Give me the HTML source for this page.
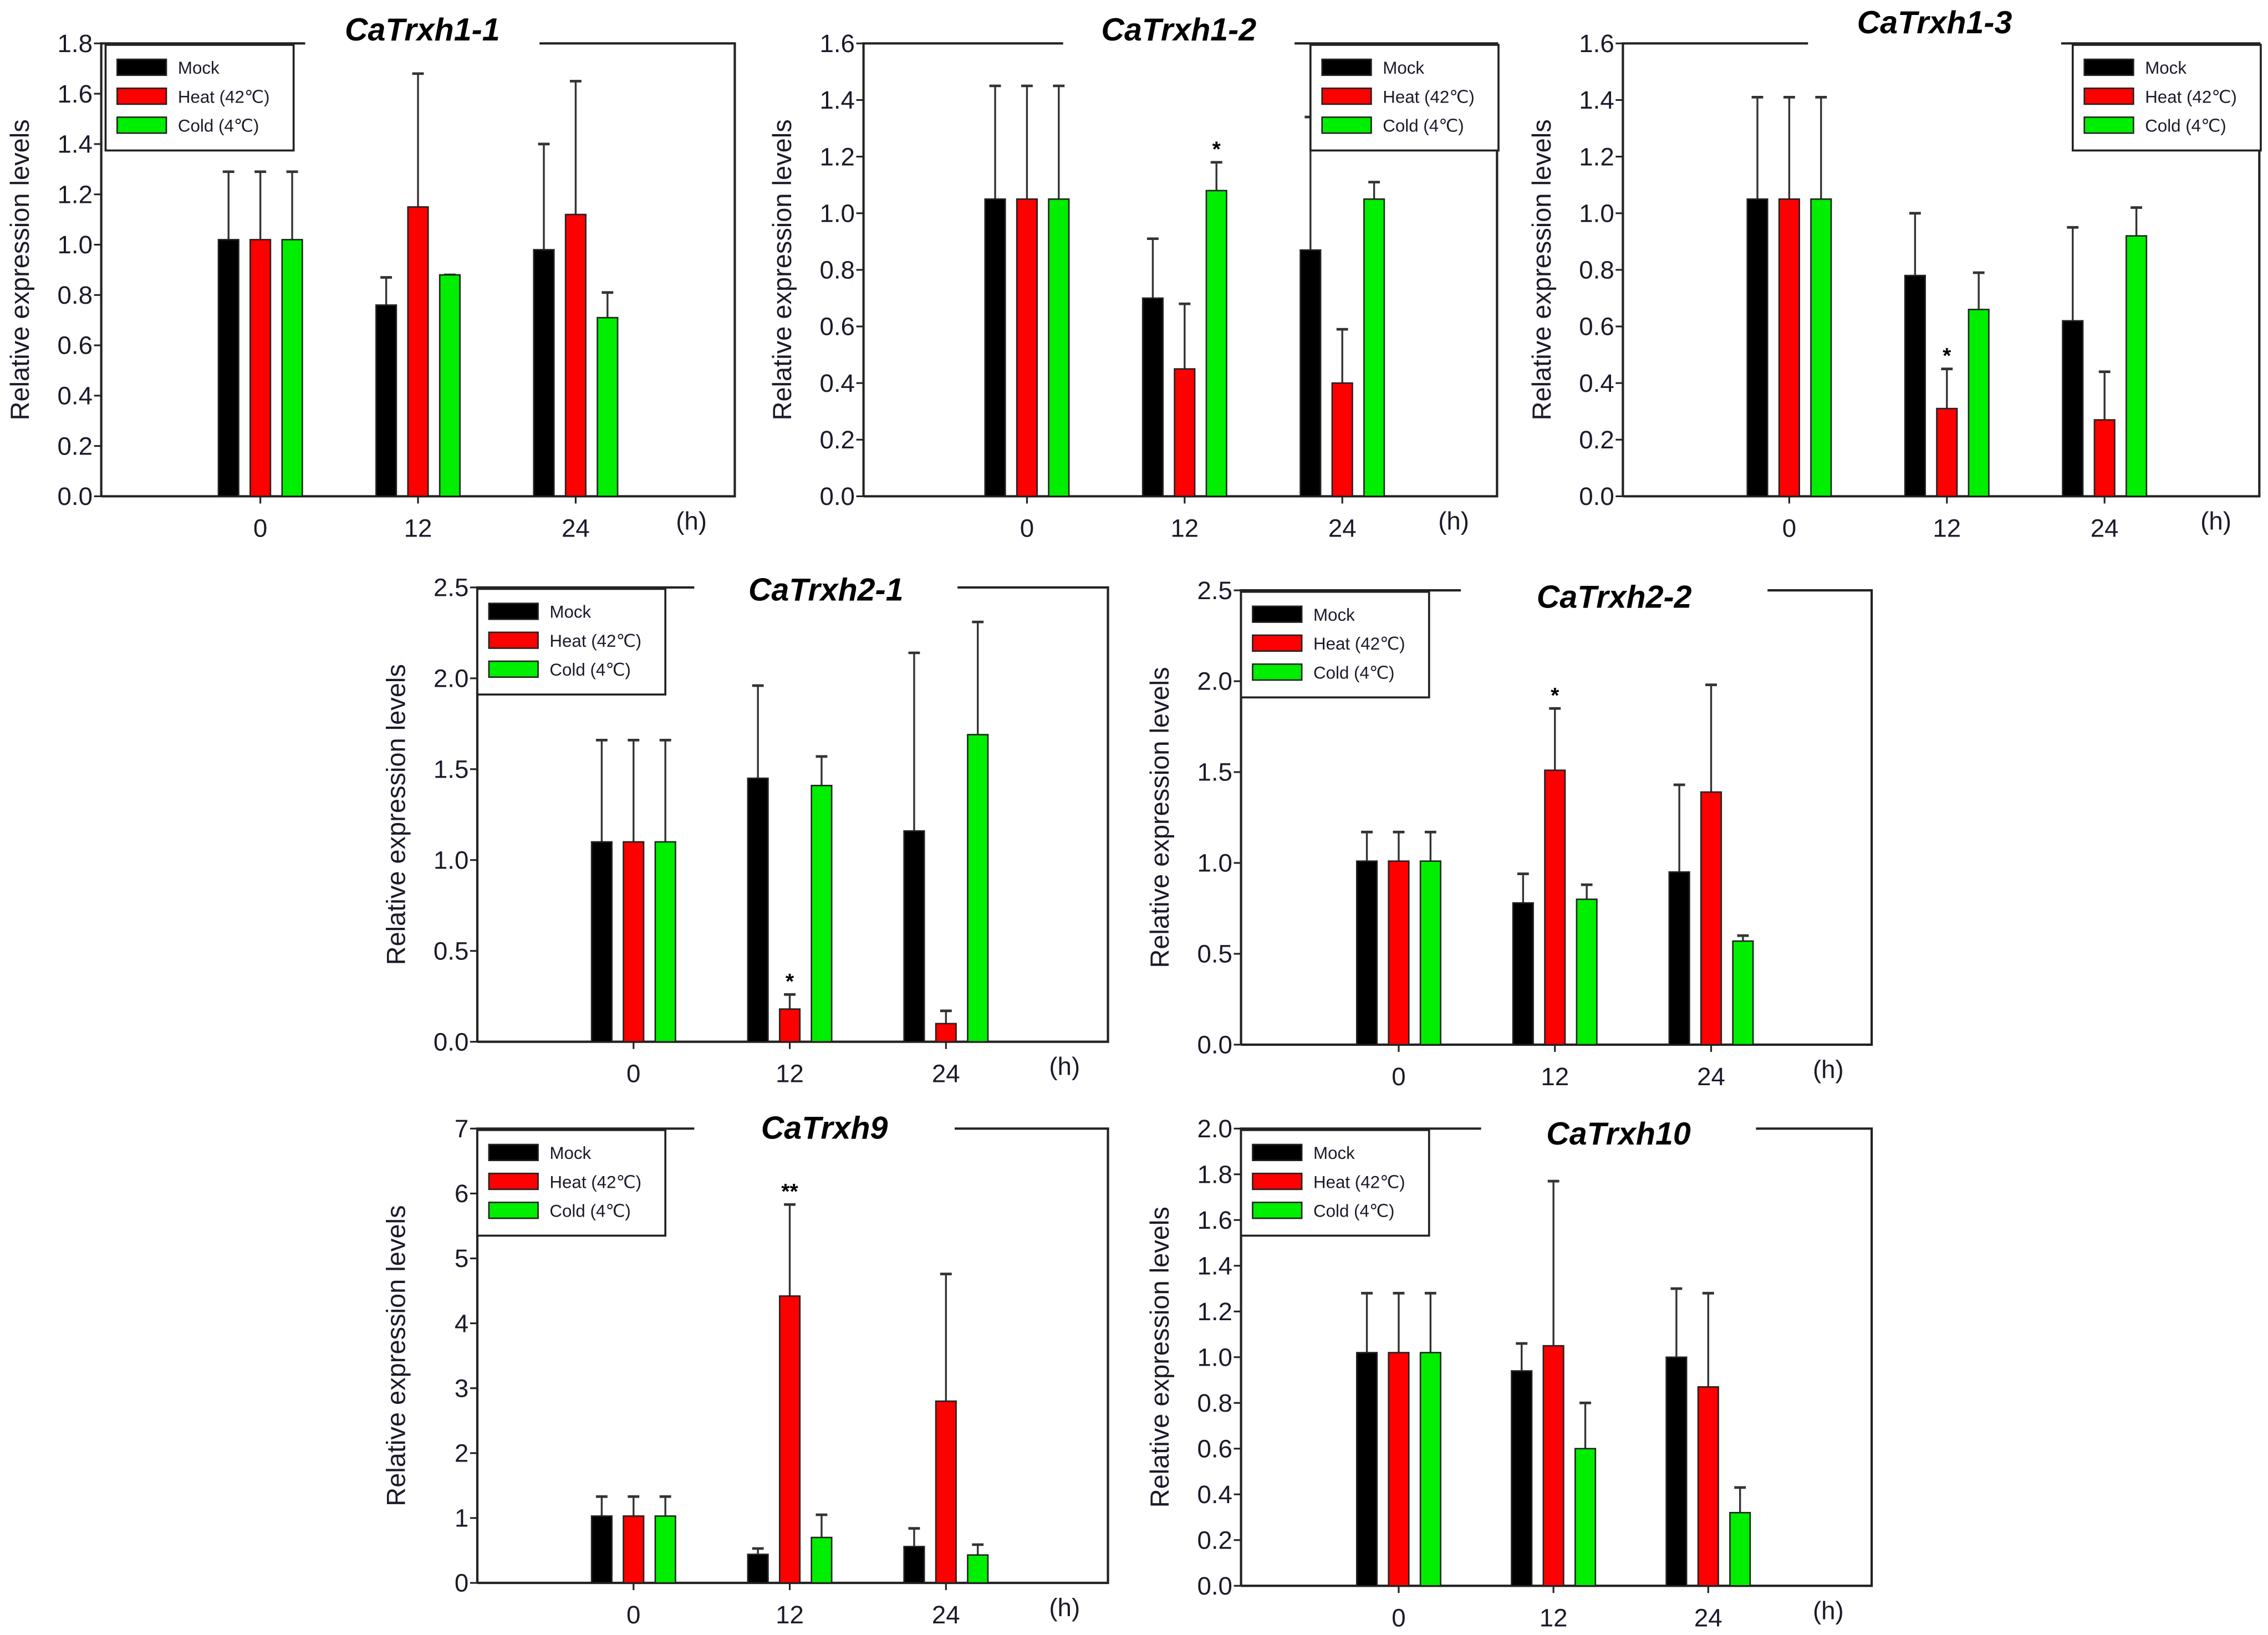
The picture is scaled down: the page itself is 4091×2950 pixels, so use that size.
<!DOCTYPE html>
<html><head><meta charset="utf-8"><style>
html,body{margin:0;padding:0;background:#fff;}
svg{display:block;}
text{font-family:"Liberation Sans",sans-serif;}
</style></head><body>
<svg id="fig" width="4091" height="2950" viewBox="0 0 1568 1130" preserveAspectRatio="none" xmlns="http://www.w3.org/2000/svg"></svg>
<script>
// ---- data ----
const categories = ["0","12","24"];
const seriesNames = ["Mock","Heat (42\u2103)","Cold (4\u2103)"];
const seriesColors = ["#000000","#ff0000","#00ee00"];

const p1Mock=[1.02,0.76,0.98], p1MockErr=[1.29,0.87,1.40];
const p1Heat=[1.02,1.15,1.12], p1HeatErr=[1.29,1.68,1.65];
const p1Cold=[1.02,0.88,0.71], p1ColdErr=[1.29,0.88,0.81];
const p1Ticks=["0.0","0.2","0.4","0.6","0.8","1.0","1.2","1.4","1.6","1.8"];

const p2Mock=[1.05,0.70,0.87], p2MockErr=[1.45,0.91,1.34];
const p2Heat=[1.05,0.45,0.40], p2HeatErr=[1.45,0.68,0.59];
const p2Cold=[1.05,1.08,1.05], p2ColdErr=[1.45,1.18,1.11];
const p2Ticks=["0.0","0.2","0.4","0.6","0.8","1.0","1.2","1.4","1.6"];

const p3Mock=[1.05,0.78,0.62], p3MockErr=[1.41,1.00,0.95];
const p3Heat=[1.05,0.31,0.27], p3HeatErr=[1.41,0.45,0.44];
const p3Cold=[1.05,0.66,0.92], p3ColdErr=[1.41,0.79,1.02];
const p3Ticks=["0.0","0.2","0.4","0.6","0.8","1.0","1.2","1.4","1.6"];

const p4Mock=[1.10,1.45,1.16], p4MockErr=[1.66,1.96,2.14];
const p4Heat=[1.10,0.18,0.10], p4HeatErr=[1.66,0.26,0.17];
const p4Cold=[1.10,1.41,1.69], p4ColdErr=[1.66,1.57,2.31];
const p4Ticks=["0.0","0.5","1.0","1.5","2.0","2.5"];

const p5Mock=[1.01,0.78,0.95], p5MockErr=[1.17,0.94,1.43];
const p5Heat=[1.01,1.51,1.39], p5HeatErr=[1.17,1.85,1.98];
const p5Cold=[1.01,0.80,0.57], p5ColdErr=[1.17,0.88,0.60];
const p5Ticks=["0.0","0.5","1.0","1.5","2.0","2.5"];

const p6Mock=[1.03,0.44,0.56], p6MockErr=[1.33,0.53,0.84];
const p6Heat=[1.03,4.42,2.80], p6HeatErr=[1.33,5.83,4.76];
const p6Cold=[1.03,0.70,0.43], p6ColdErr=[1.33,1.05,0.59];
const p6Ticks=["0","1","2","3","4","5","6","7"];

const p7Mock=[1.02,0.94,1.00], p7MockErr=[1.28,1.06,1.30];
const p7Heat=[1.02,1.05,0.87], p7HeatErr=[1.28,1.77,1.28];
const p7Cold=[1.02,0.60,0.32], p7ColdErr=[1.28,0.80,0.43];
const p7Ticks=["0.0","0.2","0.4","0.6","0.8","1.0","1.2","1.4","1.6","1.8","2.0"];

// significance marks: [series index, category index, label]
const p2Stars=[[2,1,"*"]], p3Stars=[[1,1,"*"]], p4Stars=[[1,1,"*"]], p5Stars=[[1,1,"*"]], p6Stars=[[1,1,"**"]];

const NS="http://www.w3.org/2000/svg";
const svg=document.getElementById("fig");
function mk(tag,attrs,parent){const e=document.createElementNS(NS,tag);for(const k in attrs)e.setAttribute(k,attrs[k]);(parent||svg).appendChild(e);return e;}

function panel(o){
  const g=mk("g",{});
  
  
  const L=o.l,R=o.r,T=o.t,B=o.b,ymax=o.ymax;
  const y=v=>B-(v/ymax)*(B-T);
  const x=i=>o.x0+i*o.dx;
  const ax=mk("path",{d:`M${L},${B} H${R} V${T} H${o.gap[1]} M${o.gap[0]},${T} H${L} V${B}`,fill:"none",stroke:"#222","stroke-width":1.6},g);
  
  
  o.ticks.forEach((t,i)=>{
    const v=i*ymax/(o.ticks.length-1);
    mk("line",{x1:L-5,x2:L,y1:y(v),y2:y(v),stroke:"#222","stroke-width":1.2},g);
    const tx=mk("text",{x:L-6,y:y(v)+6,"text-anchor":"end","font-size":17.5,fill:"#1a1a2a"},g);
    tx.textContent=t;
    
    
  });
  const yt=mk("text",{x:0,y:0,transform:`translate(${L-50},${(T+B)/2}) rotate(-90)`,"text-anchor":"middle","font-size":18,fill:"#1a1a2a"},g);
  yt.textContent="Relative expression levels";
  
  
  categories.forEach((c,i)=>{
    mk("line",{x1:x(i),x2:x(i),y1:B,y2:B+5,stroke:"#222","stroke-width":1.2},g);
    const tx=mk("text",{x:x(i),y:B+28,"text-anchor":"middle","font-size":17.5,fill:"#1a1a2a"},g);
    tx.textContent=c;
    
    
  });
  const h=mk("text",{x:R-30,y:B+23,"text-anchor":"middle","font-size":17.5,fill:"#1a1a2a"},g);
  h.textContent="(h)";
  
  
  const vals=[o.mock,o.heat,o.cold], errs=[o.mockErr,o.heatErr,o.coldErr];
  const off=[-22,0,22], bw=14;
  vals.forEach((s,si)=>{
    s.forEach((v,ci)=>{
      const cx=x(ci)+off[si];
      const top=y(errs[si][ci]);
      mk("line",{x1:cx,x2:cx,y1:y(v),y2:top,stroke:"#333","stroke-width":1.3},g);
      mk("line",{x1:cx-4,x2:cx+4,y1:top,y2:top,stroke:"#333","stroke-width":1.8},g);
      const r=mk("rect",{x:cx-bw/2,y:y(v),width:bw,height:B-y(v),fill:seriesColors[si],stroke:"#222","stroke-width":1},g);
      
      
    });
  });
  (o.stars||[]).forEach(s=>{
    const cx=x(s[1])+off[s[0]];
    const st=mk("text",{x:cx,y:y(errs[s[0]][s[1]])-4,"text-anchor":"middle","font-size":15,"font-weight":"bold"},g);
    st.textContent=s[2];
    
    
  });
  const ti=mk("text",{x:(o.gap[0]+o.gap[1])/2,y:o.ty,"text-anchor":"middle","font-size":22,"font-weight":"bold","font-style":"italic"},g);
  ti.textContent=o.title;
  
  
  const lx=o.legX, ly=T+1, lw=130, lh=73;
  const lg=mk("g",{},g);
  
  
  mk("rect",{x:lx,y:ly,width:lw,height:lh,fill:"#fff",stroke:"#222","stroke-width":1.4},lg);
  seriesNames.forEach((n,i)=>{
    const ry=ly+10+i*20;
    mk("rect",{x:lx+8,y:ry,width:34,height:11,fill:seriesColors[i],stroke:"#222","stroke-width":1},lg);
    const t=mk("text",{x:lx+50,y:ry+10,"font-size":12,fill:"#1a1a2a"},lg);
    t.textContent=n;
    
    
  });
}

panel({id:"catrxh1-1",title:"CaTrxh1-1",ty:28,l:70,r:508,t:30,b:343,ymax:1.8,ticks:p1Ticks,x0:180,dx:109,gap:[211,373],legX:73,mock:p1Mock,mockErr:p1MockErr,heat:p1Heat,heatErr:p1HeatErr,cold:p1Cold,coldErr:p1ColdErr});
panel({id:"catrxh1-2",title:"CaTrxh1-2",ty:28,l:597,r:1035,t:30,b:343,ymax:1.6,ticks:p2Ticks,x0:710,dx:109,gap:[735,895],legX:906,mock:p2Mock,mockErr:p2MockErr,heat:p2Heat,heatErr:p2HeatErr,cold:p2Cold,coldErr:p2ColdErr,stars:p2Stars});
panel({id:"catrxh1-3",title:"CaTrxh1-3",ty:23,l:1122,r:1562,t:30,b:343,ymax:1.6,ticks:p3Ticks,x0:1237,dx:109,gap:[1250,1425],legX:1433,mock:p3Mock,mockErr:p3MockErr,heat:p3Heat,heatErr:p3HeatErr,cold:p3Cold,coldErr:p3ColdErr,stars:p3Stars});
panel({id:"catrxh2-1",title:"CaTrxh2-1",ty:415,l:330,r:766,t:406,b:720,ymax:2.5,ticks:p4Ticks,x0:438,dx:108,gap:[480,662],legX:330,mock:p4Mock,mockErr:p4MockErr,heat:p4Heat,heatErr:p4HeatErr,cold:p4Cold,coldErr:p4ColdErr,stars:p4Stars});
panel({id:"catrxh2-2",title:"CaTrxh2-2",ty:420,l:858,r:1294,t:408,b:722,ymax:2.5,ticks:p5Ticks,x0:967,dx:108,gap:[1010,1222],legX:858,mock:p5Mock,mockErr:p5MockErr,heat:p5Heat,heatErr:p5HeatErr,cold:p5Cold,coldErr:p5ColdErr,stars:p5Stars});
panel({id:"catrxh9",title:"CaTrxh9",ty:787,l:330,r:766,t:780,b:1094,ymax:7,ticks:p6Ticks,x0:438,dx:108,gap:[480,660],legX:330,mock:p6Mock,mockErr:p6MockErr,heat:p6Heat,heatErr:p6HeatErr,cold:p6Cold,coldErr:p6ColdErr,stars:p6Stars});
panel({id:"catrxh10",title:"CaTrxh10",ty:791,l:858,r:1294,t:780,b:1096,ymax:2.0,ticks:p7Ticks,x0:967,dx:107,gap:[1024,1214],legX:858,mock:p7Mock,mockErr:p7MockErr,heat:p7Heat,heatErr:p7HeatErr,cold:p7Cold,coldErr:p7ColdErr});
</script>
</body></html>
